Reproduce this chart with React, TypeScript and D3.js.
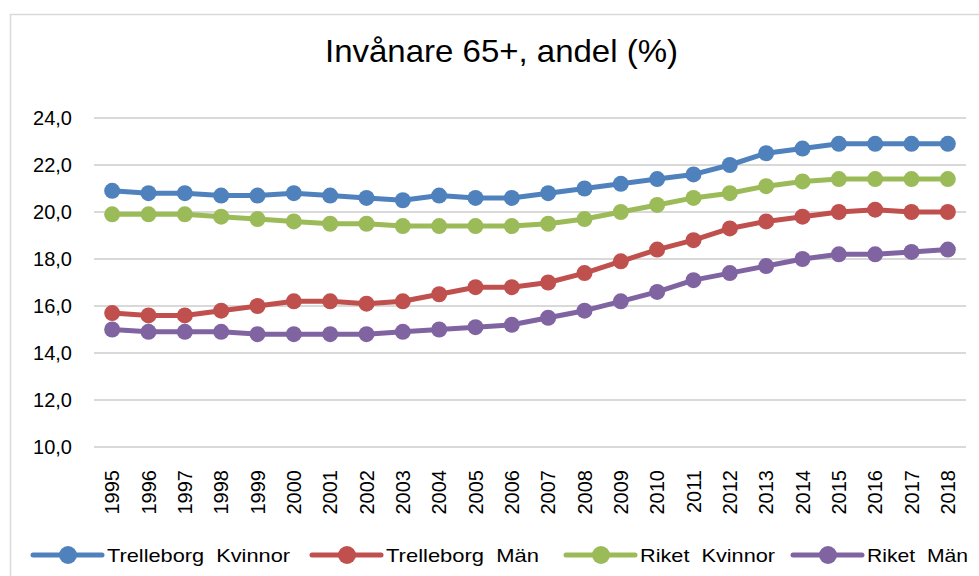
import React from "react";
import * as d3 from "d3";

const years = ["1995","1996","1997","1998","1999","2000","2001","2002","2003","2004","2005","2006","2007","2008","2009","2010","2011","2012","2013","2014","2015","2016","2017","2018"];
const trelleborgKvinnor = [20.9,20.8,20.8,20.7,20.7,20.8,20.7,20.6,20.5,20.7,20.6,20.6,20.8,21.0,21.2,21.4,21.6,22.0,22.5,22.7,22.9,22.9,22.9,22.9];
const trelleborgMan = [15.7,15.6,15.6,15.8,16.0,16.2,16.2,16.1,16.2,16.5,16.8,16.8,17.0,17.4,17.9,18.4,18.8,19.3,19.6,19.8,20.0,20.1,20.0,20.0];
const riketKvinnor = [19.9,19.9,19.9,19.8,19.7,19.6,19.5,19.5,19.4,19.4,19.4,19.4,19.5,19.7,20.0,20.3,20.6,20.8,21.1,21.3,21.4,21.4,21.4,21.4];
const riketMan = [15.0,14.9,14.9,14.9,14.8,14.8,14.8,14.8,14.9,15.0,15.1,15.2,15.5,15.8,16.2,16.6,17.1,17.4,17.7,18.0,18.2,18.2,18.3,18.4];
const yTicks = [10,12,14,16,18,20,22,24];
const seriesNames = ["Trelleborg  Kvinnor","Trelleborg  Män","Riket  Kvinnor","Riket  Män"];
const colors = ["#4F81BD","#C0504D","#9BBB59","#8064A2"];
const title = "Invånare 65+, andel (%)";

const W = 979, H = 576;
const plot = { left: 94, right: 966, top: 118, bottom: 447 };
const font = "'Liberation Sans', Arial, sans-serif";

export default function App() {
  const x = d3.scaleBand<string>().domain(years).range([plot.left, plot.right]);
  const y = d3.scaleLinear().domain([10, 24]).range([plot.bottom, plot.top]);
  const cx = (yr: string) => (x(yr) as number) + x.bandwidth() / 2;
  const allSeries = [trelleborgKvinnor, trelleborgMan, riketKvinnor, riketMan];
  const line = d3.line<number>().x((_, i) => cx(years[i])).y((v) => y(v));
  const fmt = (v: number) => v.toFixed(1).replace(".", ",");

  const legendX = [33, 312, 566, 793];
  const legendTextW = [183, 153, 135, 101];
  const legendY = 555;

  return (
    <svg width={W} height={H} style={{ position: "absolute", left: 0, top: 0, background: "#fff" }}>
      <rect x={10.5} y={14.5} width={W + 10} height={H + 10} fill="#fff" stroke="#d9d9d9" strokeWidth={1.5} />
      <text x={(325 + 678) / 2} y={62} textAnchor="middle" fontFamily={font} fontSize={32} fill="#000" textLength={353} lengthAdjust="spacingAndGlyphs">{title}</text>
      {yTicks.map((t) => (
        <g key={t}>
          <line x1={plot.left} x2={plot.right} y1={y(t)} y2={y(t)} stroke="#d9d9d9" strokeWidth={2} />
          <text x={72} y={y(t)} dy="0.36em" textAnchor="end" fontFamily={font} fontSize={20} fill="#000">{fmt(t)}</text>
        </g>
      ))}
      {years.map((yr) => (
        <text key={yr} transform={`translate(${cx(yr)},${470}) rotate(-90)`} dy="0.36em" textAnchor="end" fontFamily={font} fontSize={20} fill="#000">{yr}</text>
      ))}
      {allSeries.map((s, k) => (
        <g key={k}>
          <path d={line(s) as string} fill="none" stroke={colors[k]} strokeWidth={5} strokeLinejoin="round" />
          {s.map((v, i) => (
            <circle key={i} cx={cx(years[i])} cy={y(v)} r={8} fill={colors[k]} />
          ))}
        </g>
      ))}
      {seriesNames.map((n, k) => (
        <g key={n}>
          <line x1={legendX[k]} x2={legendX[k] + 69} y1={legendY} y2={legendY} stroke={colors[k]} strokeWidth={5} strokeLinecap="round" />
          <circle cx={legendX[k] + 35} cy={legendY} r={9} fill={colors[k]} />
          <text x={legendX[k] + 74} y={562} fontFamily={font} fontSize={19} fill="#000" textLength={legendTextW[k]} lengthAdjust="spacingAndGlyphs" style={{ whiteSpace: "pre" }}>{n}</text>
        </g>
      ))}
    </svg>
  );
}
